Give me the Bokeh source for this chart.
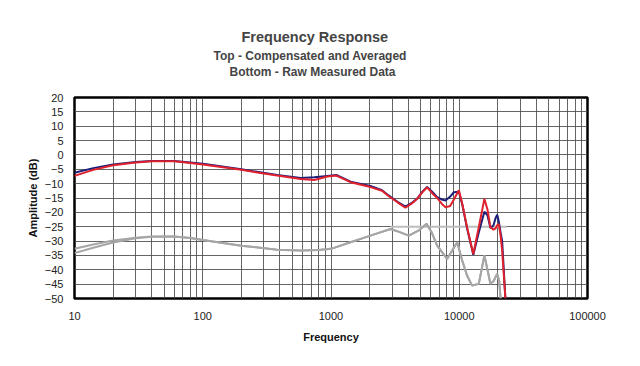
from bokeh.plotting import figure
from bokeh.models import FixedTicker, BasicTickFormatter, Title
from bokeh.embed import file_html
from bokeh.resources import INLINE

# ---- data ----
comp_freq = [10, 14, 20, 30, 40, 60, 80, 100, 200, 380, 580, 740, 940, 1100, 1420,
             2030, 2500, 2810, 3300, 3800, 4300, 4700, 5200, 5620, 6200, 6730, 7300,
             7820, 8500, 9080, 9930, 10550, 11500, 12870, 14200, 15700, 16600, 17500,
             18500, 19200, 19770, 20300, 21000, 21600, 22900]
comp_left = [-6.2, -4.6, -3.3, -2.5, -2.1, -2.1, -2.6, -3.1, -5.0, -7.0, -8.0, -7.8,
             -7.3, -7.0, -9.3, -10.8, -12.3, -14.1, -16.3, -18.0, -16.6, -15.2, -12.6,
             -11.2, -13.0, -14.7, -15.5, -15.9, -14.5, -13.0, -12.8, -17.2, -25.5,
             -34.8, -27.0, -19.8, -21.0, -25.5, -24.5, -22.0, -20.8, -23.0, -27.0,
             -30.0, -50.0]
comp_right = [-7.3, -5.2, -3.6, -2.6, -2.2, -2.2, -2.8, -3.3, -5.2, -7.2, -8.4, -8.7,
              -7.5, -7.2, -9.5, -11.2, -12.5, -14.3, -16.5, -18.4, -16.8, -15.3, -12.8,
              -11.3, -13.5, -15.0, -17.0, -18.2, -17.8, -15.5, -12.3, -17.0, -25.2,
              -34.5, -25.2, -15.3, -19.0, -25.2, -26.0, -25.6, -24.5, -24.0, -28.0,
              -33.3, -50.0]

raw_freq = [10, 14, 20, 30, 40, 60, 80, 100, 200, 380, 580, 800, 1000, 1420, 2030,
            2910, 3400, 4040, 4840, 5560, 6100, 6730, 8040, 9640, 10550, 11500, 12600,
            14200, 15700, 16600, 17500, 18500, 19770, 20500, 21000]
raw_left = [-32.7, -31.2, -29.8, -28.8, -28.4, -28.4, -28.9, -29.6, -31.6, -33.0,
            -33.3, -33.1, -32.7, -30.4, -28.1, -25.8, -26.8, -28.1, -26.3, -24.0,
            -27.0, -31.6, -36.2, -30.4, -36.8, -42.0, -45.5, -44.9, -35.0, -40.0,
            -44.9, -44.0, -41.4, -44.0, -50.0]
raw_right = [-34.2, -32.3, -30.5, -29.0, -28.5, -28.4, -28.9, -29.6, -31.6, -33.0,
             -33.3, -33.1, -32.7, -30.4, -28.1, -25.8, -26.8, -28.1, -26.3, -24.0,
             -27.0, -31.6, -36.2, -30.4, -36.8, -42.0, -45.5, -44.9, -35.0, -40.0,
             -44.9, -44.0, -41.4, -44.0, -50.0]

ref_freq = [2910, 23500]
ref_db = [-25, -25]

x_ticks = [10, 100, 1000, 10000, 100000]
y_ticks = [20, 15, 10, 5, 0, -5, -10, -15, -20, -25, -30, -35, -40, -45, -50]

FONT = "Liberation Sans"

p = figure(width=624, height=350, x_axis_type="log",
           x_range=(10, 100000), y_range=(-50, 20),
           output_backend="svg", toolbar_location=None,
           min_border_left=74, min_border_right=37, min_border_bottom=52,
           min_border_top=97)
p.title.visible = False

# titles (closest to plot first)
p.add_layout(Title(text=" ", text_font=FONT, text_font_size="16px", standoff=0), "above")
p.add_layout(Title(text="Bottom - Raw Measured Data", text_font=FONT,
                   text_font_size="12px", text_font_style="bold", align="left",
                   offset=155, standoff=0), "above")
p.add_layout(Title(text="Top -  Compensated and Averaged", text_font=FONT,
                   text_font_size="12px", text_font_style="bold", align="left",
                   offset=139, standoff=0), "above")
p.add_layout(Title(text="Frequency Response", text_font=FONT,
                   text_font_size="14.5px", text_font_style="bold", align="left",
                   offset=167, standoff=4), "above")

grid_x = [m * 10 ** e for e in range(1, 5) for m in range(1, 10)] + [100000]

p.xaxis.ticker = FixedTicker(ticks=x_ticks)
p.xaxis.formatter = BasicTickFormatter(use_scientific=False)
p.yaxis.ticker = FixedTicker(ticks=y_ticks)
p.xgrid.ticker = FixedTicker(ticks=grid_x)
p.ygrid.ticker = FixedTicker(ticks=y_ticks)

for g in (p.xgrid, p.ygrid):
    g.grid_line_color = "#4a4a4a"
    g.grid_line_width = 1
    g.grid_line_alpha = 0.85

for ax in (p.xaxis, p.yaxis):
    ax.axis_line_color = None
    ax.major_tick_line_color = None
    ax.minor_tick_line_color = None
    ax.major_label_text_font = FONT
    ax.major_label_text_font_size = "11px"
    ax.major_label_text_color = "#222222"
    ax.axis_label_text_font = FONT
    ax.axis_label_text_font_size = "11px"
    ax.axis_label_text_font_style = "bold"
    ax.axis_label_text_color = "#111111"

p.xaxis.axis_label = "Frequency"
p.yaxis.axis_label = "Amplitude (dB)"
p.xaxis.major_label_standoff = 7
p.xaxis.axis_label_standoff = 8
p.yaxis.major_label_standoff = 5
p.yaxis.axis_label_standoff = 3

p.outline_line_color = "black"
p.outline_line_width = 2.5
p.background_fill_color = "white"
p.border_fill_color = "white"

p.line(ref_freq, ref_db, line_color="#bdbdbd", line_width=2)
p.line(raw_freq, raw_right, line_color="#a6a6a6", line_width=2)
p.line(raw_freq, raw_left, line_color="#a6a6a6", line_width=2)
p.line(comp_freq, comp_left, line_color="#1c1f78", line_width=2)
p.line(comp_freq, comp_right, line_color="#e0202c", line_width=2)

open("out.html", "w").write(file_html(p, INLINE))
